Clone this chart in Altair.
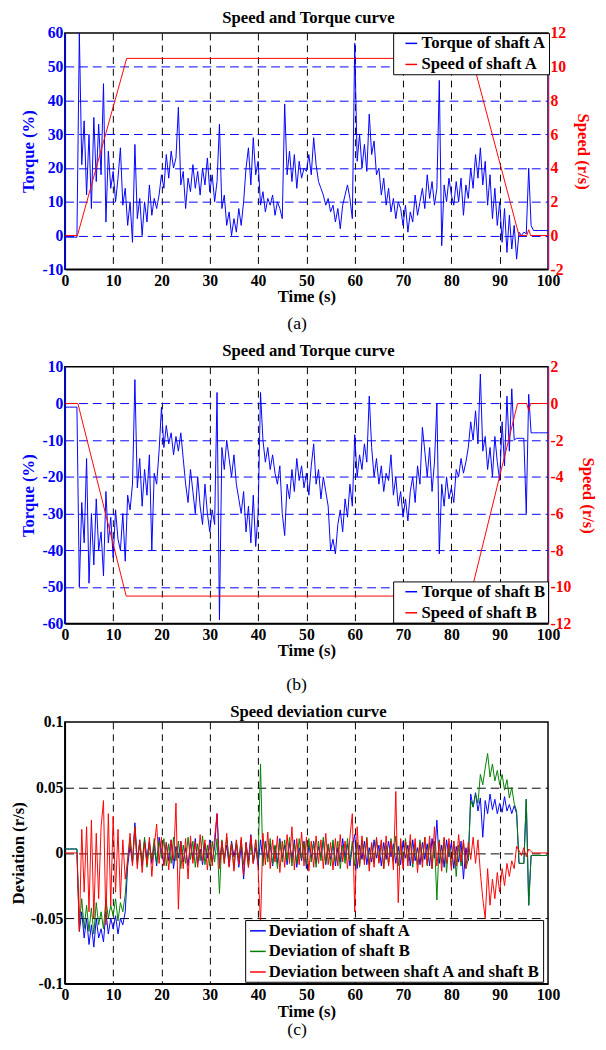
import altair as alt
import pandas as pd

FONT = "Liberation Serif"
BLUE = "#0000ff"
RED = "#ff0000"
GREEN = "#008000"
PURPLE = "#a0207d"

# sampling grid: 0, 0.5, ..., 100 s
time = [i / 2 for i in range(201)]

torque_a = [
    -0.5, -0.5, -0.5, -0.5, -0.5, -0.5, 60, 21, 34, 12,
    30, 8, 35, 16, 33, 18, 45, 4, 25, 14,
    19, 10, 17, 26, 9, 14, 3, 10, -2, 27,
    5, 11, 0, 10, 4, 15, 6, 11, 8, 12,
    18, 14, 24, 17, 25, 20, 23, 38, 15, 19,
    8, 17, 13, 21, 14, 19, 12, 20, 15, 23,
    13, 18, 10, 16, 33, 8, 12, 3, 7, 0,
    5, 1, 8, 3, 10, 20, 26, 15, 29, 18,
    22, 9, 13, 7, 11, 9, 12, 6, 10, 8,
    5, 39, 18, 25, 16, 24, 14, 22, 17, 20,
    19, 24, 18, 29, 21, 16, 14, 12, 9, 11,
    7, 9, 4, 8, 2, 9, 12, 15, 11, 5,
    57, 22, 30, 20, 27, 19, 36, 24, 28, 18,
    20, 12, 17, 9, 14, 7, 11, 5, 10, 8,
    3, 9, 1, 7, 4, 12, 6, 10, 14, 8,
    18, 11, 16, 9, 14, 46, -3, 15, 10, 17,
    12, 9, 16, 10, 17, 6, 15, 11, 20, 14,
    24, 17, 26, 15, 22, 9, 18, 5, 14, 3,
    10, -2, 8, -5, 6, -4, 3, -7, 1, 0,
    1, 0.5, 20, 3, 1.5, 1.5, 1.5, 1.5, 1.5, 1.5,
    1.5,
]
speed_a_t = [0, 2.6, 12.8, 84.3, 94.0, 95.6, 96.0, 96.4, 100]
speed_a_v = [0, 0, 10.5, 10.5, 0, 0, 0.35, 0, 0]

torque_b = [
    -1, -1, -1, -1, -1, -1, -50, -27, -38, -15,
    -49, -30, -44, -26, -40, -35, -47, -24, -38, -31,
    -42, -29, -37, -40, -30, -43, -25, -29, -22, 6.5,
    -23, -15, -28, -18, -25, -14, -40, -19, -22, -13,
    -1, -12, -6, -11, -8, -14, -9, -13, -8, -15,
    -22, -27, -18, -24, -30, -20, -28, -33, -22, -30,
    -35, -29, -33, 3, -59, -12, -18, -10, -15, -20,
    -14, -22, -26, -30, -24, -35, -28, -38, -25, -39,
    -30, 3, -10, -16, -12, -18, -14, -19, -22, -17,
    -30, -36, -22, -26, -18, -24, -15, -21, -17, -23,
    -19, -25, -17, -11, -22, -18, -26, -20, -24, -28,
    -40, -37, -41, -33, -29, -35, -26, -31, -22, -28,
    -8.5, -20, -14, -18, -11, -16, 2, -12, -20, -15,
    -22, -17, -24, -19, -21, -14, -25, -20, -28, -24,
    -31, -26, -32, -24, -20, -27, -17, -22, -6.5, -13,
    -20, -12, -24, -16, 0, -41, -22, -28, -20, -26,
    -23, -27, -18, -20, -15, -19, -16, -12, -5, -10,
    -2, -11, 8, -13, -9, -18, -12, -20, -9, -16,
    -21, -5, -17, 2, -13, 4, -10, -9.5, -9.5, -9.5,
    -9.5, -30, 2.5, -8, -8, -8, -8, -8, -8, -8,
    -8,
]
speed_b_t = [0, 2.7, 12.7, 83.9, 93.7, 95.6, 96.0, 96.4, 100]
speed_b_v = [0, 0, -10.5, -10.5, 0, 0, -0.4, 0, 0]

dev_a = [
    0.003, 0.003, 0.003, 0.003, 0.003, 0.003, -0.06, -0.045, -0.065, -0.05,
    -0.07, -0.055, -0.072, -0.05, -0.065, -0.058, -0.068, -0.045, -0.062, -0.05,
    -0.058, -0.048, -0.062, -0.05, -0.055, -0.045, -0.01, 0.005, -0.008, 0.023,
    -0.006, 0.008, -0.01, 0.01, -0.004, 0.009, -0.008, 0.006, -0.01, 0.012,
    0.002, -0.009, 0.008, -0.006, 0.01, -0.012, 0.005, -0.004, 0.009, -0.007,
    0.004, -0.01, 0.008, -0.005, 0.011, -0.008, 0.003, -0.009, 0.007, -0.004,
    0.01, -0.007, 0.005, 0.03, -0.009, 0.008, -0.005, 0.006, -0.01, 0.009,
    -0.003, 0.007, -0.011, 0.005, -0.02, 0.008, -0.006, 0.014, -0.008, 0.004,
    -0.009, 0.01, -0.006, 0.009, -0.004, 0.007, -0.01, 0.005, -0.008, 0.011,
    -0.004, 0.006, -0.009, 0.008, -0.005, 0.01, -0.011, 0.004, -0.006, 0.009,
    -0.012, 0.006, -0.004, 0.009, -0.008, 0.005, -0.003, 0.01, -0.009, 0.006,
    -0.005, 0.008, -0.01, 0.004, -0.007, 0.011, -0.004, 0.007, -0.01, 0.005,
    0.014, -0.012, 0.006, -0.005, 0.009, -0.009, 0.004, -0.007, 0.01, -0.004,
    0.006, -0.01, 0.008, -0.005, 0.009, -0.003, 0.007, -0.008, 0.005, -0.009,
    0.009, -0.004, 0.006, -0.01, 0.01, -0.006, 0.004, -0.009, 0.008, -0.005,
    0.007, -0.01, 0.011, -0.004, 0.025, -0.008, 0.006, -0.011, 0.01, -0.003,
    0.008, -0.012, 0.005, -0.007, 0.009, -0.02, 0.004, -0.006, 0.045, 0.035,
    0.046, 0.032, 0.042, 0.012, 0.04, 0.03, 0.045, 0.033, 0.041, 0.03,
    0.038, 0.031, 0.043, 0.032, 0.037, 0.03, 0.036, 0.03, -0.008, -0.008,
    -0.008, 0.041, -0.04, -0.002, -0.002, -0.002, -0.002, -0.002, -0.002, -0.002,
    -0.002,
]

dev_b = [
    0.003, 0.003, 0.003, 0.003, 0.003, 0.003, -0.055, -0.035, -0.058, -0.04,
    -0.06, -0.042, -0.062, -0.038, -0.055, -0.045, -0.058, -0.035, -0.05, -0.04,
    -0.048, -0.035, -0.052, -0.038, -0.045, -0.032, -0.005, 0.01, -0.006, 0.02,
    -0.009, 0.01, -0.007, 0.012, -0.011, 0.006, -0.005, 0.011, -0.008, 0.009,
    -0.004, 0.011, -0.01, 0.007, -0.008, 0.012, -0.006, 0.009, -0.012, 0.006,
    -0.008, 0.012, -0.005, 0.009, -0.011, 0.007, -0.006, 0.013, -0.009, 0.006,
    -0.01, 0.009, -0.007, 0.011, -0.031, 0.01, -0.008, 0.012, -0.006, 0.008,
    -0.012, 0.009, -0.005, 0.01, -0.009, 0.006, -0.011, 0.008, -0.007, 0.01,
    -0.006, 0.068, -0.01, 0.008, -0.007, 0.011, -0.009, 0.006, -0.012, 0.009,
    -0.007, 0.01, -0.006, 0.012, -0.01, 0.007, -0.008, 0.011, -0.005, 0.008,
    -0.009, 0.011, -0.007, 0.008, -0.011, 0.009, -0.006, 0.012, -0.008, 0.007,
    -0.01, 0.01, -0.007, 0.009, -0.012, 0.006, -0.008, 0.011, -0.006, 0.009,
    -0.01, 0.008, -0.011, 0.01, -0.006, 0.012, -0.009, 0.007, -0.008, 0.011,
    -0.007, 0.009, -0.012, 0.006, -0.009, 0.011, -0.006, 0.013, -0.01, 0.008,
    -0.008, 0.011, -0.006, 0.009, -0.011, 0.007, -0.009, 0.01, -0.007, 0.012,
    -0.01, 0.008, -0.012, 0.009, -0.036, 0.01, -0.008, 0.011, -0.015, 0.007,
    -0.011, 0.009, -0.018, 0.006, -0.01, 0.008, -0.012, -0.005, 0.04, 0.035,
    0.045, 0.038, 0.06, 0.052, 0.065, 0.076, 0.058, 0.068, 0.055, 0.063,
    0.052, 0.06, 0.048, 0.056, 0.042, 0.05, 0.038, 0.032, -0.008, -0.008,
    -0.008, 0.041, -0.04, -0.002, -0.002, -0.002, -0.002, -0.002, -0.002, -0.002,
    -0.002,
]

dev_ab = [
    0, 0, 0, 0, 0, 0, -0.06, 0.018, -0.03, 0.02,
    -0.045, 0.025, -0.05, 0.015, -0.035, 0.02, 0.04, -0.055, 0.03, -0.04,
    0.028, -0.03, 0.018, -0.035, 0.01, -0.02, -0.005, 0.015, -0.01, 0.02,
    -0.012, 0.01, -0.015, 0.008, -0.009, 0.012, -0.018, 0.005, 0.022, -0.008,
    0.012, -0.01, 0.008, -0.013, 0.01, -0.006, 0.038, -0.043, 0.009, -0.012,
    0.011, -0.02, 0.013, -0.008, 0.009, -0.011, 0.014, -0.007, 0.01, -0.013,
    0.008, -0.01, 0.012, 0.03, -0.012, 0.009, -0.008, 0.015, -0.011, 0.007,
    -0.014, 0.01, -0.009, 0.012, -0.017, 0.008, -0.011, 0.013, -0.008, 0.01,
    -0.012, -0.055, 0.015, -0.009, 0.016, -0.012, 0.01, -0.007, 0.013, -0.015,
    0.009, -0.011, 0.014, -0.008, 0.02, -0.013, 0.011, -0.009, 0.016, -0.01,
    0.012, -0.014, 0.009, -0.011, 0.013, -0.008, 0.01, -0.012, 0.015, -0.009,
    0.008, -0.013, 0.011, -0.01, 0.014, -0.007, 0.009, -0.012, 0.012, 0.03,
    -0.045, 0.02, -0.01, 0.013, -0.009, 0.011, -0.014, 0.008, -0.011, 0.012,
    -0.008, 0.01, -0.012, 0.013, -0.01, 0.009, -0.013, 0.047, -0.038, 0.011,
    -0.012, 0.009, -0.01, 0.014, -0.008, 0.011, -0.015, 0.008, -0.011, 0.012,
    -0.009, 0.013, -0.012, 0.02, -0.01, 0.009, -0.014, 0.012, -0.008, 0.011,
    -0.013, 0.009, -0.01, 0.014, -0.007, 0.01, -0.012, 0.008, -0.005, 0.012,
    -0.008, 0.01, -0.015, -0.035, -0.05, -0.012, -0.04, -0.02, -0.035, -0.015,
    -0.03, -0.012, -0.025, -0.008, -0.018, -0.006, -0.012, 0.005, 0.002, -0.002,
    0.004, -0.003, 0.003, 0.001, 0, 0, 0, 0, 0, 0,
    0,
]

x_ticks = list(range(0, 101, 10))
W = 493


def hide_edges(lo, hi):
    return {"condition": {"test": f"datum.value <= {lo} || datum.value >= {hi}", "value": 0}, "value": 1}


def x_main():
    return alt.X(
        "t:Q",
        scale=alt.Scale(domain=[0, 100], nice=False),
        axis=alt.Axis(
            orient="bottom",
            values=x_ticks, title="Time (s)", grid=True, gridColor="black",
            gridDash=[7, 5], gridWidth=1, gridOpacity=hide_edges(0, 100),
            ticks=False, domainColor="black", domainWidth=1.5,
            labelFont=FONT, labelFontSize=16, labelFontWeight="bold", labelColor="black",
            labelPadding=3.5, labelFlush=False, labelOverlap=False,
            titleFont=FONT, titleFontSize=17, titleFontWeight="bold", titleColor="black",
            titlePadding=0.5,
        ),
    )


def x_caption(text, pad):
    return alt.X(
        "t:Q",
        scale=alt.Scale(domain=[0, 100], nice=False),
        axis=alt.Axis(
            orient="bottom",
            title=text, labels=False, ticks=False, domain=False, grid=False,
            titleFont=FONT, titleFontSize=18, titleFontWeight="normal", titleColor="black",
            titlePadding=pad, titleAlign="right",
        ),
    )


def legend(lx, ly, row_pad, sym_size, sym_off):
    return alt.Legend(
        title=None, orient="none", legendX=lx, legendY=ly,
        fillColor="white", strokeColor="black", padding=2, cornerRadius=0,
        symbolType="stroke", symbolSize=sym_size, symbolStrokeWidth=1.5, symbolOffset=sym_off,
        labelFont=FONT, labelFontSize=17, labelFontWeight="bold", labelColor="black",
        labelLimit=400, labelOffset=2, rowPadding=row_pad,
    )


def panel_title(text, off):
    return alt.Title(text, font=FONT, fontSize=17, fontWeight="bold", color="black",
                     offset=off, anchor="middle", frame="group", dx=2)


def torque_panel(torque, sp_t, sp_v, tname, sname, tdom, tvals, sdom, svals,
                 h, ly, title_off, cap, cap_pad):
    dft = pd.DataFrame({"t": time, "v": torque, "series": tname})
    dfs = pd.DataFrame({"t": sp_t, "v": sp_v, "series": sname})
    color = alt.Color("series:N",
                      scale=alt.Scale(domain=[tname, sname], range=[BLUE, RED]),
                      legend=legend(335, ly, 3.5, 144, 8))
    y_left = alt.Y(
        "v:Q", scale=alt.Scale(domain=tdom, nice=False, zero=False),
        axis=alt.Axis(
            orient="left", values=tvals, title="Torque (%)", grid=True, gridColor=BLUE,
            gridDash=[9, 5], gridWidth=1, gridOpacity=hide_edges(tdom[0], tdom[1]),
            ticks=False, domainColor=BLUE, domainWidth=1.5,
            labelFont=FONT, labelFontSize=16, labelFontWeight="bold", labelColor=BLUE,
            labelPadding=2, labelFlush=False, labelOverlap=False, labelExpr="'' + datum.value",
            titleFont=FONT, titleFontSize=17, titleFontWeight="bold", titleColor=BLUE,
            titlePadding=5,
        ),
    )
    y_right = alt.Y(
        "v:Q", scale=alt.Scale(domain=sdom, nice=False, zero=False),
        axis=alt.Axis(
            orient="right", values=svals, title="Speed (r/s)", grid=False,
            ticks=False, domainColor=PURPLE, domainWidth=1.5,
            labelFont=FONT, labelFontSize=16, labelFontWeight="bold", labelColor=RED,
            labelPadding=2, labelFlush=False, labelOverlap=False, labelExpr="'' + datum.value",
            titleFont=FONT, titleFontSize=17, titleFontWeight="bold", titleColor=RED,
            titlePadding=8,
        ),
    )
    l1 = alt.Chart(dft).mark_line(strokeWidth=1, clip=True).encode(
        x=x_main(), y=y_left, color=color, order="t:Q")
    l2 = alt.Chart(dfs).mark_line(strokeWidth=1, clip=True).encode(
        x=x_caption(cap, cap_pad), y=y_right, color=color, order="t:Q")
    return (
        alt.layer(l1, l2)
        .resolve_scale(y="independent")
        .resolve_axis(x="independent")
        .properties(width=W, height=h, title=panel_title("Speed and Torque curve", title_off))
    )


pa = torque_panel(torque_a, speed_a_t, speed_a_v, "Torque of shaft A", "Speed of shaft A",
                  [-10, 60], list(range(-10, 61, 10)), [-2, 12], list(range(-2, 13, 2)),
                  241, 0, -2, "(a)", 46)
pb = torque_panel(torque_b, speed_b_t, speed_b_v, "Torque of shaft B", "Speed of shaft B",
                  [-60, 10], list(range(-60, 11, 10)), [-12, 2], list(range(-12, 3, 2)),
                  262, 219, -0.5, "(b)", 53)

# panel (c)
dev_names = ["Deviation of shaft A", "Deviation of shaft B", "Deviation between shaft A and shaft B"]
dev_color = alt.Color("series:N",
                      scale=alt.Scale(domain=dev_names, range=[BLUE, GREEN, RED]),
                      legend=legend(184, 202, 4, 256, 2))
y_dev = alt.Y(
    "v:Q", scale=alt.Scale(domain=[-0.1, 0.1], nice=False, zero=False),
    axis=alt.Axis(
        values=[-0.1, -0.05, 0, 0.05, 0.1], title="Deviation (r/s)", grid=True, gridColor="black",
        gridDash=[9, 5], gridWidth=1, gridOpacity=hide_edges(-0.099, 0.099),
        ticks=False, domainColor="black", domainWidth=1.5,
        labelFont=FONT, labelFontSize=16, labelFontWeight="bold", labelColor="black",
        labelPadding=2, labelFlush=False, labelOverlap=False, labelExpr="'' + datum.value",
        titleFont=FONT, titleFontSize=17, titleFontWeight="bold", titleColor="black",
        titlePadding=3,
    ),
)
dfa = pd.DataFrame({"t": time, "v": dev_a, "series": dev_names[0]})
dfb = pd.DataFrame({"t": time, "v": dev_b, "series": dev_names[1]})
dfab = pd.DataFrame({"t": time, "v": dev_ab, "series": dev_names[2]})
c1 = alt.Chart(dfa).mark_line(strokeWidth=1, clip=True).encode(x=x_main(), y=y_dev, color=dev_color, order="t:Q")
c2 = alt.Chart(dfb).mark_line(strokeWidth=1, clip=True).encode(
    x=alt.X("t:Q", scale=alt.Scale(domain=[0, 100], nice=False), axis=None), y=y_dev, color=dev_color, order="t:Q")
c3 = alt.Chart(dfab).mark_line(strokeWidth=1, clip=True).encode(
    x=x_caption("(c)", 38), y=y_dev, color=dev_color, order="t:Q")
pc = (
    alt.layer(c1, c2, c3)
    .resolve_axis(x="independent")
    .properties(width=W, height=267, title=panel_title("Speed deviation curve", -6.5))
)

chart = (
    alt.vconcat(pa, pb, pc, spacing=7.5)
    .resolve_scale(color="independent")
    .properties(padding={"left": 0, "top": -10, "right": 0, "bottom": 0})
    .configure(font=FONT)
    .configure_view(stroke="black", strokeWidth=1.5)
)

chart.save("out.html", embed_options={"renderer": "svg", "actions": False})
